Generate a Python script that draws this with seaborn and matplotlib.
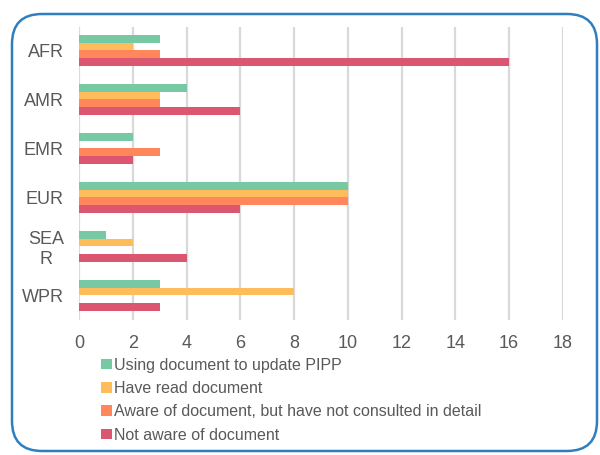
import matplotlib
matplotlib.use("Agg")
import matplotlib.pyplot as plt
import seaborn as sns
import pandas as pd
from matplotlib.patches import FancyBboxPatch
from matplotlib.transforms import IdentityTransform

regions = ["AFR", "AMR", "EMR", "EUR", "SEAR", "WPR"]
region_labels = ["AFR", "AMR", "EMR", "EUR", "SEA\nR", "WPR"]
series = ["Using document to update PIPP",
          "Have read document",
          "Aware of document, but have not consulted in detail",
          "Not aware of document"]
using = [3, 4, 2, 10, 1, 3]
have_read = [2, 3, 0, 10, 2, 8]
aware = [3, 3, 3, 10, 0, 0]
not_aware = [16, 6, 2, 6, 4, 3]
colors = ["#77C9A4", "#FEBC5B", "#FF875B", "#DB5670"]
xticks = [0, 2, 4, 6, 8, 10, 12, 14, 16, 18]

rows = []
for s, vals in zip(series, [using, have_read, aware, not_aware]):
    for r, v in zip(regions, vals):
        rows.append({"region": r, "series": s, "value": v})
df = pd.DataFrame(rows)

sns.set_style("white")
plt.rcParams["font.family"] = ["Liberation Sans", "DejaVu Sans"]

fig = plt.figure(figsize=(6, 4.55), dpi=100)
ax = fig.add_axes([0.132, 0.297, 0.806, 0.644])

sns.barplot(data=df, x="value", y="region", hue="series", order=regions,
            hue_order=series, palette=colors, orient="h", width=0.64,
            saturation=1, ax=ax, legend=True, linewidth=0)

ax.set_xlim(0, 18)
ax.set_xticks(xticks)
ax.set_xticklabels([str(t) for t in xticks])
ax.set_yticks(range(len(regions)))
ax.set_yticklabels(region_labels, multialignment="center")
ax.set_ylim(len(regions) - 0.5, -0.48)
ax.grid(axis="x", color="#D9D9D9", linewidth=1.6)
ax.set_axisbelow(True)
for sp in ax.spines.values():
    sp.set_visible(False)
ax.tick_params(axis="both", length=0, labelsize=13, colors="#595959")
ax.tick_params(axis="x", pad=11)
ax.tick_params(axis="y", pad=11)
ax.set_xlabel("")
ax.set_ylabel("")

handles, labels = ax.get_legend_handles_labels()
ax.get_legend().remove()
leg = fig.legend(handles, labels, loc="upper left",
                 bbox_to_anchor=(0.158, 0.228), frameon=False,
                 fontsize=11.5, handlelength=0.65, handleheight=0.65,
                 handletextpad=0.15, labelspacing=0.52, borderaxespad=0)
for t in leg.get_texts():
    t.set_color("#595959")

box = FancyBboxPatch((12, 4), 585, 437, boxstyle="round,pad=0,rounding_size=30",
                     transform=IdentityTransform(), fill=False,
                     edgecolor="#2E7FC1", linewidth=1.8)
fig.patches.append(box)

fig.savefig("out.png", dpi=100)
